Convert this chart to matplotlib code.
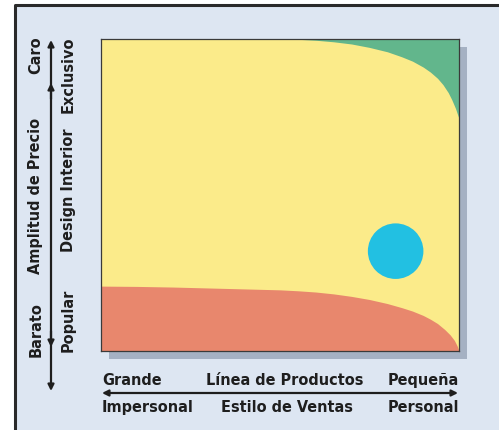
import matplotlib
matplotlib.use("Agg")
import matplotlib.pyplot as plt
import matplotlib.font_manager as fm
from matplotlib.patches import Rectangle, FancyArrowPatch
from matplotlib.lines import Line2D

# ---------------- data ----------------
red_x = [0, 10, 20, 30, 40, 50, 55, 60, 65, 70, 75, 80, 84, 87, 90, 92, 94, 96, 97.5, 98.7, 99.5, 100]
red_y = [20.8, 20.7, 20.5, 20.2, 19.9, 19.6, 19.3, 18.9, 18.3, 17.5, 16.5, 15.2, 13.9, 12.8, 11.4, 10.2, 8.8, 6.9, 5.2, 3.4, 1.6, 0]

green_x = [50, 55, 60, 65, 70, 75, 80, 84, 87, 90, 92, 94, 95.5, 97, 98, 99, 99.6, 100]
green_y = [100, 99.9, 99.6, 99.1, 98.4, 97.3, 95.9, 94.3, 92.9, 91.0, 89.4, 87.4, 85.4, 82.8, 80.5, 77.8, 75.8, 74.5]

point_x = [82.3]
point_y = [32.0]

left_outer_labels = ["Caro", "Amplitud de Precio", "Barato"]
left_inner_labels = ["Exclusivo", "Design Interior", "Popular"]
bottom_top_labels = ["Grande", "Línea de Productos", "Pequeña"]
bottom_bot_labels = ["Impersonal", "Estilo de Ventas", "Personal"]

# ---------------- style ----------------
W, H = 499, 431
BG = "#dde6f2"
YELLOW = "#fbeb8a"
RED = "#e8876d"
GREEN = "#62b68c"
BLUE = "#22c0e2"
SHADOW = "#a5b1c3"
INK = "#1e1e1e"

COND = ("condensed", "semi-condensed", "extra-condensed", "ultra-condensed")


def wnum(w):
    if isinstance(w, (int, float)):
        return int(w)
    return fm.weight_dict.get(str(w), 400)


# pick the heaviest condensed face that is installed
best = None
pref = ["DejaVu Sans Condensed", "DejaVu Sans", "Roboto Condensed", "Liberation Sans Narrow",
        "Open Sans Condensed", "Noto Sans Condensed", "Noto Sans", "Roboto", "Open Sans"]
for f in fm.fontManager.ttflist:
    is_cond = ("Condensed" in f.name or "Narrow" in f.name or str(f.stretch) in COND)
    if not is_cond:
        continue
    w = wnum(f.weight)
    rank = pref.index(f.name) if f.name in pref else len(pref)
    key = (w >= 700, -rank, w)
    if best is None or key > best[0]:
        best = (key, f)

if best is not None:
    fe = best[1]
    FONT = [fe.name, "DejaVu Sans"]
    STRETCH = fe.stretch if str(fe.stretch) in COND else "normal"
    WEIGHT = wnum(fe.weight) if wnum(fe.weight) >= 600 else "bold"
    HSIZE, VSIZE = 11.6, 11.6
else:
    FONT = ["DejaVu Sans"]
    STRETCH = "normal"
    WEIGHT = "bold"
    HSIZE, VSIZE = 10.3, 10.8

fig = plt.figure(figsize=(W / 100, H / 100), dpi=100, facecolor="white")


def fx(x):
    return x / W


def fy(y):
    return 1 - y / H


# background panel with border on top/left
fig.patches.append(Rectangle((fx(15), 0), 1 - fx(15), fy(6), transform=fig.transFigure,
                             facecolor=BG, edgecolor="none", zorder=0))
fig.lines.append(Line2D([fx(15), fx(15), 1], [0, fy(6), fy(6)], transform=fig.transFigure,
                        color="#2a2a2a", lw=2.2, zorder=1))

# plot area
L, T, R, B = 101, 40, 459, 352
fig.patches.append(Rectangle((fx(L + 8), fy(B + 8)), fx(R - L), (B - T) / H,
                             transform=fig.transFigure, facecolor=SHADOW,
                             edgecolor="none", zorder=1))

ax = fig.add_axes([fx(L), fy(B), fx(R - L), (B - T) / H], zorder=2)
ax.set_facecolor(YELLOW)
ax.fill_between(red_x, 0, red_y, color=RED, lw=0)
ax.fill_between(green_x, green_y, 100, color=GREEN, lw=0)
ax.scatter(point_x, point_y, s=1600, color=BLUE, edgecolors="none", zorder=3)
ax.set_xlim(0, 100)
ax.set_ylim(0, 100)
ax.set_xticks([])
ax.set_yticks([])
for sp in ax.spines.values():
    sp.set_color("#3a3a3a")
    sp.set_linewidth(0.9)


def txt(x, y, s, rot=0, ha="center", size=11):
    fig.text(fx(x), fy(y), s, rotation=rot, ha=ha, va="center", color=INK,
             fontsize=size, fontweight=WEIGHT, family=FONT, fontstretch=STRETCH)


# left vertical labels
for s, y in zip(left_outer_labels, [55, 196, 330]):
    txt(36, y, s, rot=90, size=VSIZE)
for s, y in zip(left_inner_labels, [75, 190, 320]):
    txt(68, y, s, rot=90, size=VSIZE)

# bottom labels
txt(102, 381, bottom_top_labels[0], ha="left", size=HSIZE)
txt(285, 381, bottom_top_labels[1], size=HSIZE)
txt(459, 381, bottom_top_labels[2], ha="right", size=HSIZE)
txt(102, 408, bottom_bot_labels[0], ha="left", size=HSIZE)
txt(287, 408, bottom_bot_labels[1], size=HSIZE)
txt(459, 408, bottom_bot_labels[2], ha="right", size=HSIZE)


def arrow(x0, y0, x1, y1, style="-|>"):
    fig.add_artist(FancyArrowPatch(
        (fx(x0), fy(y0)), (fx(x1), fy(y1)), transform=fig.transFigure,
        arrowstyle=style, mutation_scale=9, lw=1.6, color=INK, shrinkA=0, shrinkB=0))


# vertical arrow with four heads
arrow(51, 392, 51, 41, style="<|-|>")
arrow(51, 100, 51, 84)
arrow(51, 332, 51, 348)
# horizontal arrow
arrow(102, 394, 458, 394, style="<|-|>")

fig.savefig("out.png", dpi=100, facecolor="white")
